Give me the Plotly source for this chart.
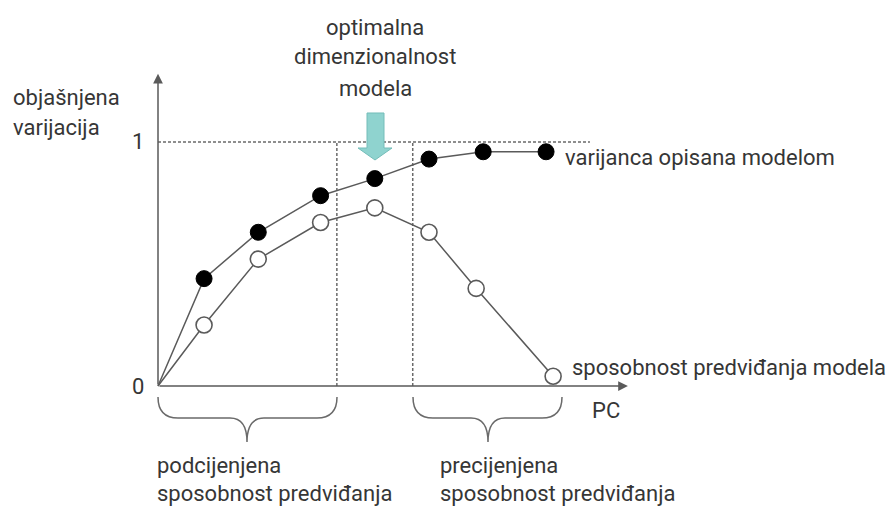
import plotly.graph_objects as go

# ---- data ----
pc_var = [0.85, 1.85, 3.0, 4.0, 5.0, 6.0, 7.16]
var_explained = [0.44, 0.63, 0.78, 0.85, 0.93, 0.96, 0.96]
pc_pred = [0.85, 1.85, 3.0, 4.0, 5.0, 5.87, 7.29]
pred_ability = [0.25, 0.52, 0.67, 0.73, 0.63, 0.40, 0.04]
y_ticks = [0, 1]
y_tick_labels = ["0", "1"]
bound_low = 3.30   # border of under-estimation region
bound_high = 4.70  # border of over-estimation region
x_axis_end = 8.67
y_axis_end = 1.28
dash_x_end = 7.97

OFF = 0
W, H = 891, 509
X0, XU = 158.0, 54.2       # page pixel of x=0, pixels per unit
Y0, YU = 386.0, 244.0      # page pixel of y=0, pixels per unit

def px(x):
    return (x - OFF) / W

def py(y):
    return 1 - (y - OFF) / H

TXT = "#363636"
LINE = "#5a5a5a"
FONT = "Roboto"

fig = go.Figure()

fig.add_trace(go.Scatter(x=[0] + pc_var, y=[0] + var_explained, mode="lines",
                         line=dict(color=LINE, width=1.5), hoverinfo="skip"))
fig.add_trace(go.Scatter(x=[0] + pc_pred, y=[0] + pred_ability, mode="lines",
                         line=dict(color=LINE, width=1.5), hoverinfo="skip"))
fig.add_trace(go.Scatter(x=pc_var, y=var_explained, mode="markers",
                         marker=dict(size=16, color="black", line=dict(color="black", width=1))))
fig.add_trace(go.Scatter(x=pc_pred, y=pred_ability, mode="markers",
                         marker=dict(size=16, color="white", line=dict(color=LINE, width=1.6))))

shapes = []
dash = dict(color="#6a6a6a", width=1.5, dash="3px,2px")
shapes.append(dict(type="line", xref="x", yref="y", x0=0, x1=dash_x_end, y0=1, y1=1, line=dash, layer="below"))
for b in (bound_low, bound_high):
    shapes.append(dict(type="line", xref="x", yref="y", x0=b, x1=b, y0=0, y1=1, line=dash, layer="below"))

def brace(xl, xr, xm, top=397, mid=418, tip=442):
    pts = [(xl, top), (xl, mid), (xl + 20, mid), (xm - 17, mid), (xm, mid), (xm, tip),
           (xm, mid), (xm + 17, mid), (xr - 20, mid), (xr, mid), (xr, top)]
    f = lambda p: f"{px(p[0]):.5f},{py(p[1]):.5f}"
    return (f"M {f(pts[0])} Q {f(pts[1])} {f(pts[2])} L {f(pts[3])} Q {f(pts[4])} {f(pts[5])} "
            f"Q {f(pts[6])} {f(pts[7])} L {f(pts[8])} Q {f(pts[9])} {f(pts[10])}")

shapes.append(dict(type="path", xref="paper", yref="paper", path=brace(158, 337, 247),
                   line=dict(color="#6a6a6a", width=1.5)))
shapes.append(dict(type="path", xref="paper", yref="paper", path=brace(413, 562, 488),
                   line=dict(color="#6a6a6a", width=1.5)))

# teal arrow
arr = [(367, 113), (384, 113), (384, 148), (392, 148), (375, 160), (358, 148), (367, 148)]
path = "M " + " L ".join(f"{px(a):.5f},{py(b):.5f}" for a, b in arr) + " Z"
shapes.append(dict(type="path", xref="paper", yref="paper", path=path,
                   fillcolor="#8fd3cf", line=dict(color="#74bdb9", width=1)))

ann = []
ann.append(dict(x=0, y=y_axis_end, ax=0, ay=0, xref="x", yref="y", axref="x", ayref="y",
                showarrow=True, arrowhead=2, arrowsize=1.3, arrowwidth=1.5, arrowcolor=LINE, text=""))
ann.append(dict(x=x_axis_end, y=0, ax=0, ay=0, xref="x", yref="y", axref="x", ayref="y",
                showarrow=True, arrowhead=2, arrowsize=1.3, arrowwidth=1.5, arrowcolor=LINE, text=""))

def label(text, x, y, anchor="left", size=22):
    ann.append(dict(text=text, x=px(x), y=py(y), xref="paper", yref="paper",
                    xanchor=anchor, yanchor="middle", showarrow=False,
                    font=dict(family=FONT, size=size, color=TXT)))

for t, lab in zip(y_ticks, y_tick_labels):
    label(lab, X0 - 12, Y0 - YU * t, anchor="right", size=22)

label("objašnjena", 11, 97)
label("varijacija", 11, 127)
label("optimalna", 375, 27, anchor="center")
label("dimenzionalnost", 375, 57, anchor="center")
label("modela", 375, 88, anchor="center")
label("varijanca opisana modelom", 563, 157)
label("sposobnost predviđanja modela", 570, 367)
label("PC", 590, 410)
label("podcijenjena", 155, 465)
label("sposobnost predviđanja", 155, 493)
label("precijenjena", 438, 465)
label("sposobnost predviđanja", 438, 493)

fig.update_layout(
    width=W, height=H, autosize=False,
    margin=dict(l=0, r=0, t=0, b=0),
    plot_bgcolor="white", paper_bgcolor="white",
    showlegend=False, hovermode=False,
    xaxis=dict(range=[-(X0 - OFF) / XU, (W - (X0 - OFF)) / XU], visible=False, fixedrange=True),
    yaxis=dict(range=[-(H - (Y0 - OFF)) / YU, (Y0 - OFF) / YU], visible=False, fixedrange=True),
    shapes=shapes, annotations=ann,
)

fig.write_html("out.html", config={"displayModeBar": False},
               post_script="document.body.style.margin='0';document.body.style.overflow='hidden';")
